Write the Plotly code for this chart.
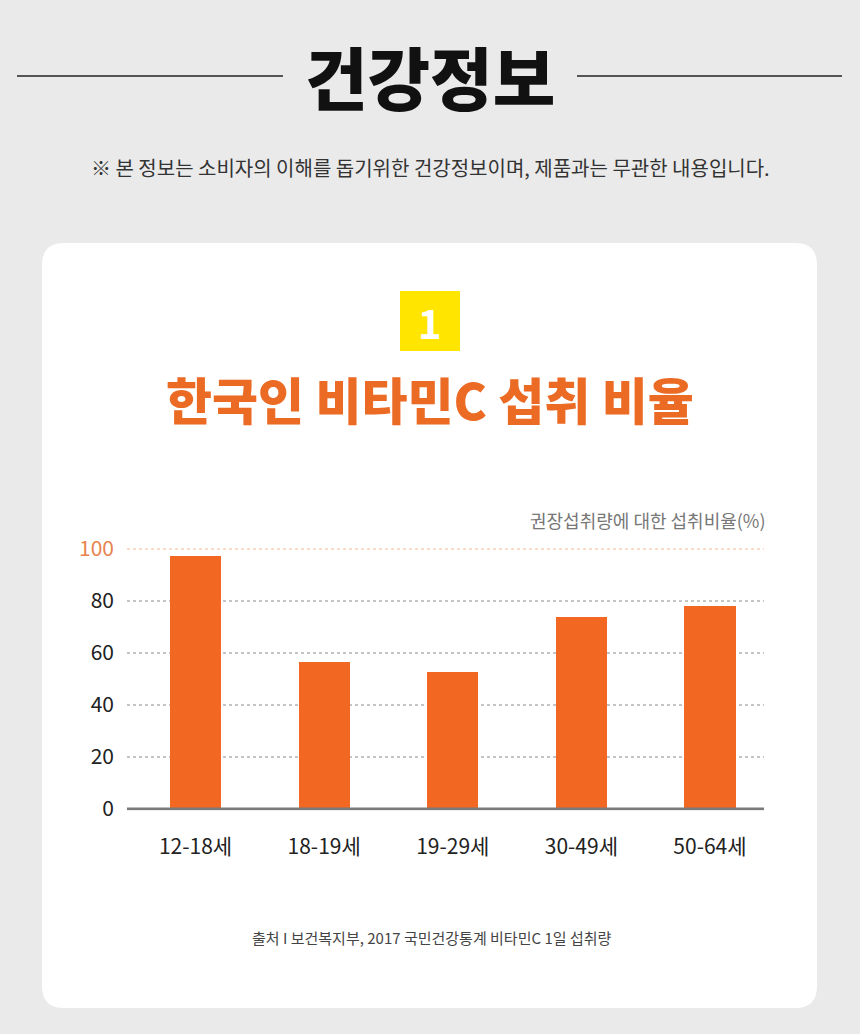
import plotly.graph_objects as go

categories = ["12-18세", "18-19세", "19-29세", "30-49세", "50-64세"]
values = [97.3, 56.8, 53.0, 74.1, 78.2]
y_ticks = [0, 20, 40, 60, 80, 100]
y_tick_labels = ["0", "20", "40", "60", "80", "<span style='color:#E8834E'>100</span>"]

W, H = 860, 1034
FONT = "Noto Sans CJK KR"
ORANGE = "#F26722"


def px(x):
    return x / W


def py(y):
    return 1 - y / H


fig = go.Figure(
    go.Bar(
        x=categories,
        y=values,
        marker_color=ORANGE,
        marker_line_width=0,
        width=0.397,
        hoverinfo="skip",
    )
)

shapes = []
# header lines
shapes.append(dict(type="line", xref="paper", yref="paper", x0=px(17), x1=px(283),
                   y0=py(76), y1=py(76), line=dict(color="#555555", width=2), layer="below"))
shapes.append(dict(type="line", xref="paper", yref="paper", x0=px(577), x1=px(842),
                   y0=py(76), y1=py(76), line=dict(color="#555555", width=2), layer="below"))
# card
x0, x1, y0, y1, r = 42, 817, 243, 1008, 22
path = (f"M {px(x0 + r)},{py(y0)} L {px(x1 - r)},{py(y0)} Q {px(x1)},{py(y0)} {px(x1)},{py(y0 + r)} "
        f"L {px(x1)},{py(y1 - r)} Q {px(x1)},{py(y1)} {px(x1 - r)},{py(y1)} "
        f"L {px(x0 + r)},{py(y1)} Q {px(x0)},{py(y1)} {px(x0)},{py(y1 - r)} "
        f"L {px(x0)},{py(y0 + r)} Q {px(x0)},{py(y0)} {px(x0 + r)},{py(y0)} Z")
shapes.append(dict(type="path", xref="paper", yref="paper", path=path,
                   fillcolor="#FFFFFF", line=dict(width=0), layer="below"))
# badge
shapes.append(dict(type="rect", xref="paper", yref="paper", x0=px(400), x1=px(460),
                   y0=py(351), y1=py(291), fillcolor="#FFE500", line=dict(width=0), layer="below"))
# gridlines
for t in y_ticks[1:]:
    col = "#F6B892" if t == 100 else "#8A8A8A"
    shapes.append(dict(type="line", xref="x domain", yref="y", x0=0, x1=1, y0=t, y1=t,
                       line=dict(color=col, width=1, dash="dot"), layer="below"))
# baseline
shapes.append(dict(type="line", xref="x domain", yref="y", x0=0, x1=1, y0=0, y1=0,
                   line=dict(color="#7A7A7A", width=3), layer="above"))

annotations = [
    dict(text="건강정보", x=0.5, y=py(76), xref="paper", yref="paper", showarrow=False,
         font=dict(family="Noto Sans CJK KR Black, Noto Sans CJK KR", size=68, color="#111111",
                   weight=900),
         xanchor="center", yanchor="middle"),
    dict(text="※ 본 정보는 소비자의 이해를 돕기위한 건강정보이며, 제품과는 무관한 내용입니다.",
         x=0.5, y=py(168), xref="paper", yref="paper", showarrow=False,
         font=dict(family=FONT, size=20, color="#333333"), xanchor="center", yanchor="middle"),
    dict(text="<b>1</b>", x=px(430), y=py(322), xref="paper", yref="paper", showarrow=False,
         font=dict(family=FONT, size=40, color="#FFFFFF"), xanchor="center", yanchor="middle"),
    dict(text="한국인 비타민C 섭취 비율", x=0.5, y=py(398), xref="paper", yref="paper",
         showarrow=False,
         font=dict(family="Noto Sans CJK KR Black, Noto Sans CJK KR", size=50, color="#EB6A24",
                   weight=800),
         xanchor="center", yanchor="middle"),
    dict(text="권장섭취량에 대한 섭취비율(%)", x=px(768), y=py(520), xref="paper", yref="paper",
         showarrow=False, font=dict(family=FONT, size=18, color="#777777"),
         xanchor="right", yanchor="middle"),
    dict(text="출처 I 보건복지부, 2017 국민건강통계 비타민C 1일 섭취량", x=px(431), y=py(937),
         xref="paper", yref="paper", showarrow=False,
         font=dict(family=FONT, size=15, color="#444444"), xanchor="center", yanchor="middle"),
]

fig.update_layout(
    width=W,
    height=H,
    autosize=False,
    margin=dict(l=0, r=0, t=0, b=0, pad=0, autoexpand=False),
    paper_bgcolor="#EAEAEA",
    plot_bgcolor="rgba(0,0,0,0)",
    showlegend=False,
    shapes=shapes,
    annotations=annotations,
    bargap=0,
    xaxis=dict(
        domain=[px(127), px(764)],
        range=[-0.533, 4.42],
        type="category",
        showgrid=False,
        zeroline=False,
        showline=False,
        ticks="",
        automargin=False,
        tickfont=dict(family=FONT, size=21, color="#222222"),
        ticklabelstandoff=22,
        fixedrange=True,
    ),
    yaxis=dict(
        domain=[py(810.3), py(547.7)],
        range=[-0.5, 100.5],
        tickvals=y_ticks,
        ticktext=y_tick_labels,
        showgrid=False,
        zeroline=False,
        showline=False,
        ticks="",
        automargin=False,
        tickfont=dict(family=FONT, size=21, color="#222222"),
        ticklabelstandoff=12,
        fixedrange=True,
    ),
)

fig.write_html(
    "out.html",
    config={"displayModeBar": False},
    post_script="document.body.style.margin='0';document.body.style.padding='0';"
                "document.body.style.overflow='hidden';document.body.style.background='#EAEAEA';",
)
